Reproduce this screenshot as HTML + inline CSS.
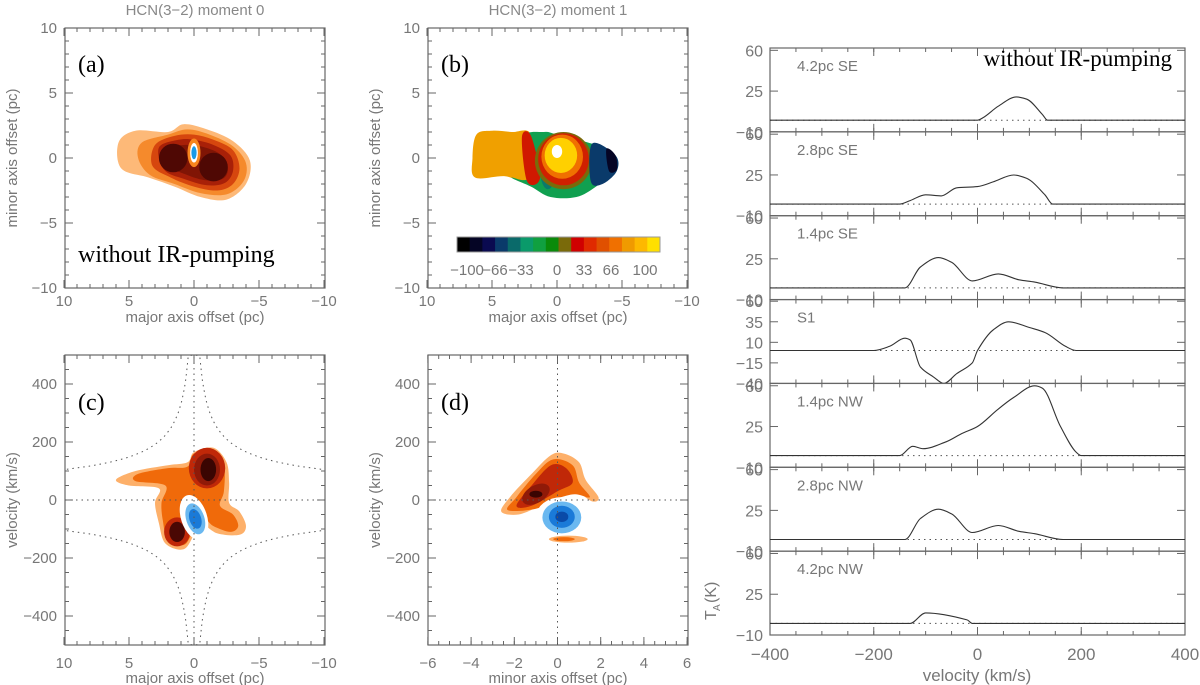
<!DOCTYPE html>
<html><head><meta charset="utf-8">
<style>
html,body{margin:0;padding:0;background:#fff;}
svg{display:block;font-family:"Liberation Sans",sans-serif;}
</style></head>
<body>
<svg id="fig" width="1200" height="685" viewBox="0 0 1200 685"></svg>
<script>
// ---- spectra data (velocity km/s, T_A K) ----
const spectraLabels = ["4.2pc SE","2.8pc SE","1.4pc SE","S1","1.4pc NW","2.8pc NW","4.2pc NW"];
const spec1V = [-400,0,10,40,75,95,125,135,400];
const spec1T = [0,0,2,12,20,18,5,0,0];
const spec2V = [-400,-150,-130,-100,-70,-40,0,30,70,95,130,145,400];
const spec2T = [0,0,3,8,7,14,15,19,25,22,8,0,0];
const spec3V = [-400,-140,-110,-75,-50,-10,40,80,110,165,400];
const spec3T = [0,0,18,26,22,6,12,7,5,0,0];
const spec4V = [-400,-200,-170,-140,-130,-110,-85,-65,-40,-10,0,30,60,100,130,170,190,400];
const spec4T = [0,0,5,15,13,-20,-32,-40,-28,-15,0,25,35,28,22,5,0,0];
const spec5V = [-400,-150,-125,-105,-60,-30,0,40,70,110,125,160,190,200,400];
const spec5T = [0,0,8,6,12,19,25,40,50,60,58,25,3,0,0];
const spec6V = [-400,-140,-110,-75,-50,-10,40,80,110,165,400];
const spec6T = [0,0,18,26,22,6,12,7,5,0,0];
const spec7V = [-400,-130,-100,-20,-10,400];
const spec7T = [0,0,9,3,0,0];
const specV = [spec1V,spec2V,spec3V,spec4V,spec5V,spec6V,spec7V];
const specT = [spec1T,spec2T,spec3T,spec4T,spec5T,spec6T,spec7T];
const yTicksNormal = [-10,25,60];
const yTicksS1 = [-40,-15,10,35,60];
const velTicks = [-400,-200,0,200,400];
const cbarColors = ["#000000","#050525","#0a0a50","#0a3a6a","#0a6a6a","#0a9a6a","#10a040","#0a8a0a","#7a6a0a","#d00000","#e02a00","#e05000","#f07000","#f09a00","#fdb800","#ffe000"];
const cbarLabels = ["\u2212100","\u221266","\u221233","0","33","66","100"];

const NS="http://www.w3.org/2000/svg";
const svg=document.getElementById('fig');
function el(tag,attrs,parent){const e=document.createElementNS(NS,tag);for(const k in attrs)e.setAttribute(k,attrs[k]);(parent||svg).appendChild(e);return e;}
function txt(x,y,s,attrs,parent){const t=el('text',Object.assign({x:x,y:y,fill:'#777','font-size':15},attrs||{}),parent);t.textContent=s;return t;}
const AX='#666';

function frame(x0,y0,x1,y1,name){
  const g=el('g',{});
  
  
  el('rect',{x:x0,y:y0,width:x1-x0,height:y1-y0,fill:'none',stroke:AX,'stroke-width':1.2},g);
  return g;
}
function xticks(g,x0,x1,y0,y1,vals,fx,minor){
  minor.forEach(v=>{const x=fx(v);el('line',{x1:x,x2:x,y1:y1,y2:y1-4,stroke:AX},g);el('line',{x1:x,x2:x,y1:y0,y2:y0+4,stroke:AX},g);});
  vals.forEach(v=>{const x=fx(v);el('line',{x1:x,x2:x,y1:y1,y2:y1-8,stroke:AX},g);el('line',{x1:x,x2:x,y1:y0,y2:y0+8,stroke:AX},g);});
}
function yticks(g,x0,x1,vals,fy,minor){
  minor.forEach(v=>{const y=fy(v);el('line',{x1:x0,x2:x0+4,y1:y,y2:y,stroke:AX},g);el('line',{x1:x1,x2:x1-4,y1:y,y2:y,stroke:AX},g);});
  vals.forEach(v=>{const y=fy(v);el('line',{x1:x0,x2:x0+8,y1:y,y2:y,stroke:AX},g);el('line',{x1:x1,x2:x1-8,y1:y,y2:y,stroke:AX},g);});
}
function range(a,b,s){const r=[];for(let v=a;v<=b+1e-9;v+=s)r.push(+v.toFixed(4));return r;}
const neg=s=>String(s).replace('-','\u2212');

function smoothClosed(P){
  const n=P.length;let d='M'+P[0][0].toFixed(1)+','+P[0][1].toFixed(1);
  for(let i=0;i<n;i++){const p0=P[(i-1+n)%n],p1=P[i],p2=P[(i+1)%n],p3=P[(i+2)%n];
    const c1=[p1[0]+(p2[0]-p0[0])/6,p1[1]+(p2[1]-p0[1])/6],c2=[p2[0]-(p3[0]-p1[0])/6,p2[1]-(p3[1]-p1[1])/6];
    d+=`C${c1[0].toFixed(1)},${c1[1].toFixed(1)} ${c2[0].toFixed(1)},${c2[1].toFixed(1)} ${p2[0].toFixed(1)},${p2[1].toFixed(1)}`;}
  return d+'Z';
}
// monotone cubic in x (no overshoot)
function smoothOpen(P){
  const n=P.length,s=[],m=[];
  for(let i=0;i<n-1;i++)s.push((P[i+1][1]-P[i][1])/(P[i+1][0]-P[i][0]));
  for(let i=0;i<n;i++){
    if(i===0)m.push(s[0]);else if(i===n-1)m.push(s[n-2]);
    else m.push(s[i-1]*s[i]<=0?0:2/(1/s[i-1]+1/s[i]));
  }
  let d='M'+P[0][0].toFixed(1)+','+P[0][1].toFixed(1);
  for(let i=0;i<n-1;i++){const h=P[i+1][0]-P[i][0];
    d+=`C${(P[i][0]+h/3).toFixed(1)},${(P[i][1]+m[i]*h/3).toFixed(1)} ${(P[i+1][0]-h/3).toFixed(1)},${(P[i+1][1]-m[i+1]*h/3).toFixed(1)} ${P[i+1][0].toFixed(1)},${P[i+1][1].toFixed(1)}`;}
  return d;
}

const ax=v=>194-13*v, ay=v=>158-13*v;
const bx=v=>557-13*v;
function mapPanel(x0,fx,label,title,name){
  const g=frame(x0,28,x0+260,288,name);
  xticks(g,x0,x0+260,28,288,[10,5,0,-5,-10],fx,range(-10,10,1));
  yticks(g,x0,x0+260,[10,5,0,-5,-10],ay,range(-10,10,1));
  [10,5,0,-5,-10].forEach(v=>{const t=txt(fx(v),306,neg(v),{'text-anchor':'middle'});
    const u=txt(x0-8,ay(v)+5,neg(v),{'text-anchor':'end'});});
  const xl=txt(x0+130,322,'major axis offset (pc)',{'text-anchor':'middle'});
  const yl=txt(0,0,'minor axis offset (pc)',{'text-anchor':'middle',transform:`translate(${x0-48},158) rotate(-90)`});
  const tt=txt(x0+130,15,title,{'text-anchor':'middle','font-size':15,fill:'#888'});
  const pl=txt(x0+13,72,label,{'font-family':'Liberation Serif, serif','font-size':24,fill:'#000'});
  return g;
}
function poly(g,pts,fx,fy,fill,name){
  const P=pts.map(p=>[fx(p[0]),fy(p[1])]);
  const p=el('path',{d:smoothClosed(P),fill:fill,stroke:'none'},g);
  return p;
}
function ell(g,cx,cy,rx,ry,fx,fy,sx,sy,fill,name,rot){
  const e=el('ellipse',{cx:fx(cx),cy:fy(cy),rx:rx*sx,ry:ry*sy,fill:fill,transform:rot?`rotate(${rot} ${fx(cx)} ${fy(cy)})`:''},g);
  return e;
}

// ===== Panel (a) =====
const ga=mapPanel(65,ax,'(a)','HCN(3\u22122) moment 0','panel-a-moment0');
poly(ga,[[5.8,1.2],[4.5,2.1],[2,2],[0.8,2.6],[-1,2.2],[-3,1.3],[-4.3,-0.2],[-4,-2],[-2.5,-3.2],[-0.5,-3],[1.5,-2.2],[3.5,-1.5],[5.6,-0.8]],ax,ay,'#fdb978','contour-level-1');
poly(ga,[[4,1.2],[2,1.8],[0.5,2.2],[-1.2,1.8],[-3,0.9],[-4,-0.4],[-3.8,-1.8],[-2.5,-2.8],[-0.5,-2.7],[1.5,-2],[3.4,-1.3],[4.3,0]],ax,ay,'#f58a2c','contour-level-2');
poly(ga,[[3,1],[1.5,1.7],[0,1.8],[-1.5,1.4],[-3,0.6],[-3.5,-0.8],[-3,-2],[-1.8,-2.5],[0,-2.2],[1.8,-1.5],[3.2,-0.6]],ax,ay,'#d6460e','contour-level-3');
poly(ga,[[2.7,0.8],[1.2,1.4],[0,1.4],[-1.5,1],[-2.8,0.2],[-3,-1],[-2.4,-1.9],[-1,-2.1],[0.8,-1.6],[2.3,-0.9]],ax,ay,'#a82008','contour-level-4');
poly(ga,[[2.3,0.7],[0.8,1],[-0.5,0.9],[-2,0.3],[-2.6,-0.8],[-2.2,-1.6],[-0.8,-1.7],[0.8,-1.2],[2,-0.6]],ax,ay,'#801505','contour-level-5');
ell(ga,1.6,0,1.1,1.1,ax,ay,13,13,'#4f0804','contour-peak-east');
ell(ga,-1.5,-0.7,1.1,1.1,ax,ay,13,13,'#4f0804','contour-peak-west');
ell(ga,0,0.4,0.5,1.1,ax,ay,13,13,'#f7861f','center-ring');
ell(ga,0,0.4,0.3,0.75,ax,ay,13,13,'#fff','center-hole');
ell(ga,0,0.4,0.2,0.5,ax,ay,13,13,'#1a9ae8','center-absorption');
const wa=txt(78,262,'without IR-pumping',{'font-family':'Liberation Serif, serif','font-size':24,fill:'#000'});

// ===== Panel (b) =====
const gb=mapPanel(428,bx,'(b)','HCN(3\u22122) moment 1','panel-b-moment1');
poly(gb,[[6.2,1.8],[5,2.1],[3.5,2],[2,1.8],[2,-1.8],[4,-1.4],[6.3,-1.5],[6.5,0]],bx,ay,'#f0a000','velocity-orange-east');
poly(gb,[[2.6,1.6],[1,2],[0,1.8],[-3,1],[-4.5,0.2],[-4.5,-1],[-3,-2.2],[-1.5,-3],[0.5,-3],[2,-2.2],[3.5,-1.5],[2.2,-1.5]],bx,ay,'#10a050','velocity-green');
poly(gb,[[2.7,1.6],[2,1.7],[1.3,-1.5],[2.3,-1.8]],bx,ay,'#d01800','velocity-red-band');
ell(gb,0.7,-0.9,0.6,1.5,bx,ay,13,13,'#0a7a6a','velocity-teal');
ell(gb,-0.5,-0.2,2.2,2.2,bx,ay,13,13,'#7a6a0a','velocity-olive-ring');
ell(gb,-0.5,-0.1,1.95,2.0,bx,ay,13,13,'#d02000','velocity-red-ring');
ell(gb,-0.4,0.1,1.6,1.7,bx,ay,13,13,'#f07000','velocity-orange-ring');
ell(gb,-0.3,0.2,1.25,1.35,bx,ay,13,13,'#ffd000','velocity-yellow');
ell(gb,0,0.5,0.4,0.5,bx,ay,13,13,'#fff','velocity-center');
poly(gb,[[-2.7,1.1],[-4.5,0.2],[-4.6,-1],[-3.5,-2],[-2.6,-1.8]],bx,ay,'#0a3a6a','velocity-darkblue');
poly(gb,[[-3.8,0.7],[-4.5,0.2],[-4.6,-0.9],[-4,-1]],bx,ay,'#050525','velocity-black-tip');
const cb=el('g',{});
const cbw=(660-457)/cbarColors.length;
cbarColors.forEach((c,i)=>{const r=el('rect',{x:457+i*cbw,y:237,width:cbw+0.5,height:15,fill:c},cb);});
el('rect',{x:457,y:237,width:203,height:15,fill:'none',stroke:'#999'},cb);
const cbx=[467,495,521,557,584,611,645];
cbarLabels.forEach((s,i)=>{const t=txt(cbx[i],275,s,{'text-anchor':'middle','font-size':15},cb);});

// ===== Panel (c), (d) PV diagrams =====
const vy=v=>500-v*0.29;
function pvPanel(x0,fx,ticks,minor,label,xtitle,name){
  const g=frame(x0,355,x0+260,645,name);
  xticks(g,x0,x0+260,355,645,ticks,fx,minor);
  yticks(g,x0,x0+260,[-400,-200,0,200,400],vy,range(-500,500,50));
  ticks.forEach(v=>{const t=txt(fx(v),668,neg(v),{'text-anchor':'middle'});});
  [-400,-200,0,200,400].forEach(v=>{const t=txt(x0-8,vy(v)+5,neg(v),{'text-anchor':'end'});});
  const xl=txt(x0+130,683,xtitle,{'text-anchor':'middle'});
  const yl=txt(0,0,'velocity (km/s)',{'text-anchor':'middle',transform:`translate(${x0-48},500) rotate(-90)`});
  const pl=txt(x0+13,410,label,{'font-family':'Liberation Serif, serif','font-size':24,fill:'#000'});
  return g;
}
const gc=pvPanel(65,ax,[10,5,0,-5,-10],range(-10,10,1),'(c)','major axis offset (pc)','panel-c-pv-major');
poly(gc,[[6,70],[4.5,100],[2,120],[0.5,130],[0,165],[-1.5,180],[-2.5,130],[-2.7,60],[-2.7,-10],[-3.5,-40],[-4,-90],[-3.5,-120],[-1.8,-115],[-0.5,-80],[0,-120],[0.8,-170],[2.2,-150],[2.7,-80],[3,-10],[2.7,40],[5,50]],ax,vy,'#fdb06a','pv-c-level-1');
poly(gc,[[4.3,90],[2,110],[0.5,115],[0,160],[-1.5,165],[-2.3,120],[-2.3,30],[-2,-20],[-3,-50],[-3.4,-90],[-2.8,-110],[-1.5,-90],[-0.6,-60],[0.2,-120],[0.8,-155],[2,-140],[2.4,-70],[2.5,-10],[2.2,50],[4.5,65]],ax,vy,'#f06a0a','pv-c-level-2');
ell(gc,-1,110,1.4,70,ax,vy,13,0.29,'#c02808','pv-c-red-upper');
ell(gc,-1,105,1.0,55,ax,vy,13,0.29,'#901a08','pv-c-darkred-upper');
ell(gc,-1.1,105,0.6,40,ax,vy,13,0.29,'#3a0502','pv-c-core-upper');
ell(gc,1.3,-110,1.0,50,ax,vy,13,0.29,'#c02808','pv-c-red-lower');
ell(gc,1.3,-110,0.6,35,ax,vy,13,0.29,'#4a0804','pv-c-core-lower');
ell(gc,0,-60,1.0,80,ax,vy,13,0.29,'#fff','pv-c-hole',-18);
ell(gc,-0.1,-65,0.7,55,ax,vy,13,0.29,'#6ab8f0','pv-c-blue-1',-18);
ell(gc,-0.1,-65,0.45,35,ax,vy,13,0.29,'#1a7ad8','pv-c-blue-2',-18);
function dashLine(g,pts,name){const p=el('path',{d:pts,fill:'none',stroke:'#555','stroke-width':1,'stroke-dasharray':'1.5,4'},g);}
dashLine(gc,`M65,500 L325,500`,'zero-velocity-line');
dashLine(gc,`M194,357 L194,645`,'zero-offset-line');
let up='',dn='',up2='',dn2='';
for(let r=0.15;r<=10;r+=0.1){const v=Math.min(105/Math.sqrt(r/10),499);
  up+=(up?'L':'M')+ax(-r).toFixed(1)+','+vy(v).toFixed(1);dn+=(dn?'L':'M')+ax(-r).toFixed(1)+','+vy(-v).toFixed(1);
  up2+=(up2?'L':'M')+ax(r).toFixed(1)+','+vy(v).toFixed(1);dn2+=(dn2?'L':'M')+ax(r).toFixed(1)+','+vy(-v).toFixed(1);}
dashLine(gc,up,'rotation-curve-upper-right');dashLine(gc,dn,'rotation-curve-lower-right');
dashLine(gc,up2,'rotation-curve-upper-left');dashLine(gc,dn2,'rotation-curve-lower-left');

const dx=v=>557.5+v*21.6;
const gd=pvPanel(428,dx,[-6,-4,-2,0,2,4,6],range(-6,6,0.5),'(d)','minor axis offset (pc)','panel-d-pv-minor');
poly(gd,[[-2.6,-40],[-2.2,10],[-1.2,90],[-0.3,155],[0.3,160],[1,130],[1.3,70],[1.9,10],[1.6,-5],[0.8,30],[0,10],[-0.8,-20],[-1.8,-50]],dx,vy,'#fdb06a','pv-d-level-1');
poly(gd,[[-2.3,-35],[-1.9,10],[-1,90],[-0.2,140],[0.7,120],[1,60],[1.5,10],[0.8,20],[0,5],[-1,-30]],dx,vy,'#f06a0a','pv-d-level-2');
poly(gd,[[-1.9,-20],[-1.2,50],[-0.3,120],[0.4,110],[0.7,60],[0,30],[-1.2,-20]],dx,vy,'#c02808','pv-d-level-3');
ell(gd,-1,20,0.7,30,dx,vy,21.6,0.29,'#901a08','pv-d-darkred',-30);
ell(gd,-1,20,0.3,12,dx,vy,21.6,0.29,'#3a0502','pv-d-core');
ell(gd,0.2,-60,1.2,70,dx,vy,21.6,0.29,'#fff','pv-d-hole');
ell(gd,0.2,-60,0.9,55,dx,vy,21.6,0.29,'#6ab8f0','pv-d-blue-1');
ell(gd,0.2,-58,0.6,38,dx,vy,21.6,0.29,'#1a7ad8','pv-d-blue-2');
ell(gd,0.2,-58,0.3,18,dx,vy,21.6,0.29,'#0a4aa8','pv-d-blue-3');
ell(gd,0.5,-135,0.9,12,dx,vy,21.6,0.29,'#fdb06a','pv-d-lower-blob');
ell(gd,0.3,-135,0.5,7,dx,vy,21.6,0.29,'#f06a0a','pv-d-lower-core');
dashLine(gd,`M428,500 L688,500`,'zero-velocity-line');
dashLine(gd,`M557.5,357 L557.5,645`,'zero-offset-line');

// ===== Spectra stack =====
const SX0=770,SX1=1185,STOP=48,SBOT=635,PH=(SBOT-STOP)/7;
const vx=v=>SX0+(v+400)*(SX1-SX0)/800;
const sg=el('g',{});
for(let i=0;i<7;i++){
  const top=STOP+i*PH,bot=top+PH;
  const isS1=i===3;
  const lo=isS1?-40:-10,hi=62;
  const fy=v=>bot-(v-lo)*PH/(hi-lo);
  const g=el('g',{},sg);
  el('rect',{x:SX0,y:top,width:SX1-SX0,height:PH,fill:'none',stroke:AX,'stroke-width':1.2},g);
  xticks(g,SX0,SX1,top,bot,velTicks,vx,range(-400,400,50));
  const yt=isS1?yTicksS1:yTicksNormal;
  yt.forEach(v=>{const y=fy(v);el('line',{x1:SX0,x2:SX0+8,y1:y,y2:y,stroke:AX},g);el('line',{x1:SX1,x2:SX1-8,y1:y,y2:y,stroke:AX},g);
    const t=txt(SX0-7,y+6,neg(v),{'text-anchor':'end','font-size':16},g);});
  const b=el('line',{x1:SX0,x2:SX1,y1:fy(0),y2:fy(0),stroke:'#555','stroke-dasharray':'1.5,4'},g);
  
  const V=specV[i],T=specT[i];
  const P=V.map((v,k)=>[vx(v),fy(T[k])]);
  const line=el('path',{d:smoothOpen(P),fill:'none',stroke:'#333','stroke-width':1.1,'stroke-linejoin':'round'},g);
  
  const lab=txt(SX0+27,top+23,spectraLabels[i],{'font-size':15},g);
}
velTicks.forEach(v=>{const t=txt(vx(v),660,neg(v),{'text-anchor':'middle','font-size':17});});
const vt=txt(977,681,'velocity (km/s)',{'text-anchor':'middle','font-size':17});
const ta=txt(0,0,'T',{'font-size':16,transform:'translate(716,620) rotate(-90)'});
const sA=txt(0,0,'A',{'font-size':10,transform:'translate(720,611) rotate(-90)'});
const tk=txt(0,0,'(K)',{'font-size':16,transform:'translate(716,603) rotate(-90)'});
const wr=txt(1172,66,'without IR-pumping',{'text-anchor':'end','font-family':'Liberation Serif, serif','font-size':23,fill:'#000'});
</script>
</body></html>
